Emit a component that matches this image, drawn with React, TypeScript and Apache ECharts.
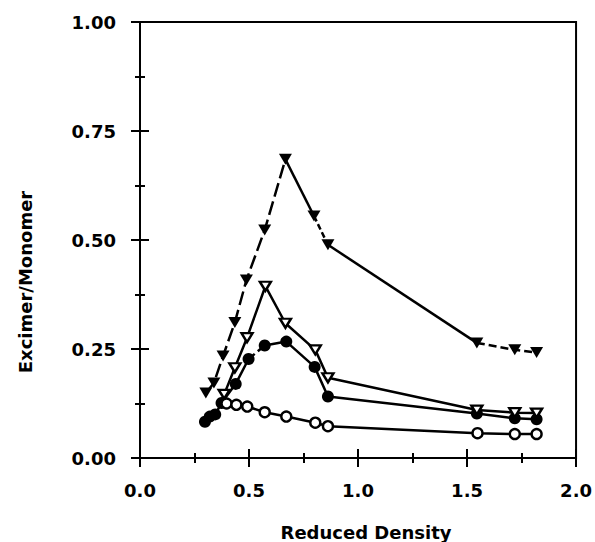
import React, { useEffect, useRef } from "react";
import * as echarts from "echarts";

const xTickLabels = ["0.0", "0.5", "1.0", "1.5", "2.0"];
const yTickLabels = ["0.00", "0.25", "0.50", "0.75", "1.00"];
const xTitle = "Reduced Density";
const yTitle = "Excimer/Monomer";

const filledTriX = [0.302, 0.339, 0.381, 0.435, 0.488, 0.572, 0.667, 0.798, 0.862, 1.545, 1.719, 1.819];
const filledTriY = [0.149, 0.172, 0.234, 0.311, 0.408, 0.523, 0.685, 0.555, 0.489, 0.264, 0.248, 0.242];

const openTriX = [0.386, 0.435, 0.491, 0.575, 0.667, 0.804, 0.862, 1.545, 1.719, 1.819];
const openTriY = [0.146, 0.207, 0.276, 0.394, 0.309, 0.248, 0.184, 0.110, 0.104, 0.103];

const filledCircX = [0.298, 0.32, 0.345, 0.374, 0.439, 0.498, 0.572, 0.671, 0.801, 0.862, 1.545, 1.719, 1.819];
const filledCircY = [0.083, 0.095, 0.1, 0.126, 0.170, 0.227, 0.258, 0.267, 0.209, 0.141, 0.102, 0.091, 0.089];

const openCircX = [0.397, 0.442, 0.492, 0.572, 0.671, 0.804, 0.862, 1.548, 1.719, 1.819];
const openCircY = [0.125, 0.122, 0.118, 0.105, 0.095, 0.081, 0.073, 0.057, 0.055, 0.055];

const zip = (xs: number[], ys: number[]) => xs.map((x, i) => [x, ys[i]]);

const FONT = "DejaVu Sans";

export default function App() {
  const ref = useRef<HTMLDivElement>(null);
  useEffect(() => {
    if (!ref.current) return;
    const chart = echarts.init(ref.current, undefined, { renderer: "svg" });
    const axisLabelX = {
      color: "#000",
      fontFamily: FONT,
      fontWeight: "bold" as const,
      fontSize: 18,
      margin: 23,
      formatter: (v: number) => {
        const s = v.toFixed(1);
        return xTickLabels.includes(s) ? s : "";
      },
    };
    const axisLabelY = {
      color: "#000",
      fontFamily: FONT,
      fontWeight: "bold" as const,
      fontSize: 18,
      margin: 24,
      formatter: (v: number) => {
        const s = v.toFixed(2);
        return yTickLabels.includes(s) ? s : "";
      },
    };
    const line = { show: true, lineStyle: { color: "#000", width: 2 } };
    const tickStyle = { color: "#000", width: 2 };
    const markers = (data: number[][], symbol: string, filled: boolean, rotate: number, size: any) => ({
      type: "scatter",
      data,
      symbol,
      symbolSize: size,
      symbolRotate: rotate,
      itemStyle: {
        color: filled ? "#000" : "#fff",
        borderColor: "#000",
        borderWidth: filled ? 0 : 2.4,
        opacity: 1,
      },
      z: 5,
    });
    const lineSeg = (data: number[][], dash: any) => ({
      type: "line",
      data,
      symbol: "none",
      lineStyle: { color: "#000", width: 2.5, type: dash },
      z: 3,
    });
    const ft = zip(filledTriX, filledTriY);
    const ot = zip(openTriX, openTriY);
    const fc = zip(filledCircX, filledCircY);
    const oc = zip(openCircX, openCircY);
    chart.setOption({
      animation: false,
      grid: {
        left: 140,
        top: 22,
        right: 18,
        bottom: 84,
        show: true,
        borderColor: "#000",
        borderWidth: 2,
        backgroundColor: "transparent",
      },
      xAxis: [
        {
          type: "value",
          min: 0,
          max: 2,
          interval: 0.5,
          axisLine: line,
          axisTick: { show: true, inside: false, length: 9, lineStyle: tickStyle },
          minorTick: { show: true, splitNumber: 2, length: 5, lineStyle: tickStyle },
          splitLine: { show: false },
          axisLabel: axisLabelX,
        },
        {
          type: "value",
          min: 0,
          max: 2,
          interval: 0.5,
          position: "bottom",
          axisLine: line,
          axisTick: { show: true, inside: true, length: 9, lineStyle: tickStyle },
          minorTick: { show: true, splitNumber: 2, length: 5, lineStyle: tickStyle },
          splitLine: { show: false },
          axisLabel: { show: false },
        },
      ],
      yAxis: [
        {
          type: "value",
          min: 0,
          max: 1,
          interval: 0.25,
          axisLine: line,
          axisTick: { show: true, inside: false, length: 9, lineStyle: tickStyle },
          minorTick: { show: true, splitNumber: 2, length: 5, lineStyle: tickStyle },
          splitLine: { show: false },
          axisLabel: axisLabelY,
        },
        {
          type: "value",
          min: 0,
          max: 1,
          interval: 0.25,
          position: "left",
          axisLine: line,
          axisTick: { show: true, inside: true, length: 9, lineStyle: tickStyle },
          minorTick: { show: true, splitNumber: 2, length: 5, lineStyle: tickStyle },
          splitLine: { show: false },
          axisLabel: { show: false },
        },
      ],
      graphic: [
        {
          type: "text",
          x: 366,
          y: 532,
          style: {
            text: xTitle,
            fill: "#000",
            font: `bold 18px '${FONT}'`,
            align: "center",
            verticalAlign: "middle",
          },
        },
        {
          type: "text",
          x: 25,
          y: 282,
          rotation: Math.PI / 2,
          style: {
            text: yTitle,
            fill: "#000",
            font: `bold 18px '${FONT}'`,
            align: "center",
            verticalAlign: "middle",
          },
        },
      ],
      series: [
        lineSeg(ft.slice(0, 7), [14, 5]),
        lineSeg(ft.slice(6, 8), "solid"),
        lineSeg(ft.slice(7, 9), [6, 3]),
        lineSeg(ft.slice(8, 10), "solid"),
        lineSeg(ft.slice(9), [8, 4]),
        lineSeg(ot, "solid"),
        lineSeg(fc.slice(0, 6), "solid"),
        lineSeg(fc.slice(5, 7), [8, 4]),
        lineSeg(fc.slice(6), "solid"),
        lineSeg(oc, "solid"),
        markers(ft, "triangle", true, 180, [13, 11]),
        markers(fc, "circle", true, 0, 12),
        markers(ot, "triangle", false, 180, [11, 9]),
        markers(oc, "circle", false, 0, 10),
      ],
    });
    return () => chart.dispose();
  }, []);
  return <div ref={ref} style={{ width: 595, height: 542, position: "absolute", left: 0, top: 0 }} />;
}
